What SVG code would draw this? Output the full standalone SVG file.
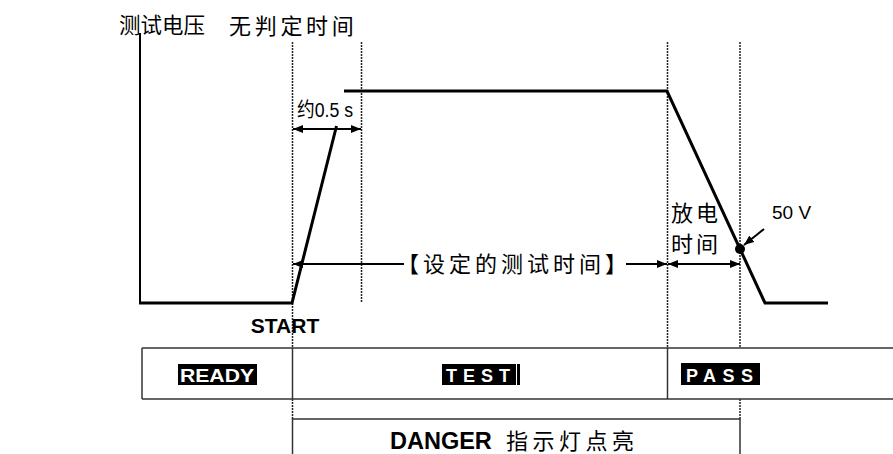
<svg xmlns="http://www.w3.org/2000/svg" width="893" height="454" viewBox="0 0 893 454">
<style>
.cjk{font-family:"Noto Sans CJK SC","Noto Sans",sans-serif;fill:#000}
.lat{font-family:"Liberation Sans",Arial,sans-serif;fill:#000}
.b{font-weight:bold}
.wave{fill:none;stroke:#000;stroke-width:3;stroke-linejoin:miter}
.dash{fill:none;stroke:#222;stroke-width:1.5;stroke-dasharray:2 1}
.dim{fill:none;stroke:#000;stroke-width:2}
.box{fill:none;stroke:#333;stroke-width:1.5}
.tag{fill:#000}
.tagt{font-family:"Liberation Sans",Arial,sans-serif;font-weight:bold;fill:#fff;font-size:18px}
</style>
<defs>
<marker id="arr" viewBox="0 0 10 8" refX="10" refY="4" markerWidth="10" markerHeight="8" markerUnits="userSpaceOnUse" orient="auto-start-reverse">
<path d="M0,0 L10,4 L0,8 z" fill="#000"/>
</marker>
</defs>
<rect width="893" height="454" fill="#fff"/>

<g id="axis">
<line x1="140" y1="33" x2="140" y2="303" stroke="#000" stroke-width="2"/>
<text class="cjk" x="119" y="33" font-size="21.5">测试电压</text>
</g>

<g id="guides">
<line class="dash" x1="292.5" y1="42" x2="292.5" y2="348"/>
<line class="dash" x1="292.5" y1="399" x2="292.5" y2="419"/>
<line class="dash" x1="361.5" y1="42" x2="361.5" y2="303"/>
<line class="dash" x1="667.5" y1="42" x2="667.5" y2="348"/>
<line class="dash" x1="740" y1="42" x2="740" y2="348"/>
<line class="dash" x1="740" y1="399" x2="740" y2="419"/>
</g>

<g id="waveform">
<polyline class="wave" points="139,303 292,303 336.5,126"/>
<polyline class="wave" points="344,91 667,91 765,303 828,303"/>
<circle cx="740" cy="249" r="5" fill="#000"/>
</g>

<g id="labels">
<text class="cjk" x="229" y="34" font-size="22" letter-spacing="3.7">无判定时间</text>
<text class="cjk" x="297" y="117" font-size="20" textLength="56" lengthAdjust="spacingAndGlyphs">约<tspan font-family="Liberation Sans, Arial, sans-serif">0.5 s</tspan></text>
<text class="cjk" x="397" y="272" font-size="22" letter-spacing="4">【设定的测试时间】</text>
<text class="cjk" x="671" y="221" font-size="22" letter-spacing="3">放电</text>
<text class="cjk" x="671" y="252" font-size="22" letter-spacing="3">时间</text>
<text class="lat" x="772" y="219" font-size="19">50 V</text>
<text class="lat b" x="285" y="333" font-size="21" text-anchor="middle">START</text>
</g>

<g id="connectors">
<line class="dim" x1="293" y1="129" x2="361" y2="129" marker-start="url(#arr)" marker-end="url(#arr)"/>
<line class="dim" x1="293" y1="264" x2="404" y2="264" marker-start="url(#arr)"/>
<line class="dim" x1="626" y1="264" x2="667" y2="264" marker-end="url(#arr)"/>
<line class="dim" x1="668" y1="264" x2="740" y2="264" marker-start="url(#arr)" marker-end="url(#arr)"/>
<line class="dim" x1="764" y1="229" x2="744" y2="245" marker-end="url(#arr)"/>
</g>

<g id="state-row">
<line class="box" x1="142" y1="348" x2="893" y2="348"/>
<line class="box" x1="142" y1="399" x2="893" y2="399"/>
<line class="box" x1="142" y1="348" x2="142" y2="399"/>
<line class="box" x1="292.5" y1="348" x2="292.5" y2="399"/>
<line class="box" x1="667.5" y1="348" x2="667.5" y2="399"/>
</g>

<g id="ready">
<rect class="tag" x="178" y="364" width="79" height="21"/>
<text class="tagt" x="180" y="381.5" textLength="74" lengthAdjust="spacingAndGlyphs">READY</text>
</g>

<g id="test">
<rect class="tag" x="442" y="364" width="74" height="21"/>
<rect class="tag" x="517" y="364" width="3" height="21"/>
<text class="tagt" x="446" y="381.5" textLength="64" lengthAdjust="spacing">TEST</text>
</g>

<g id="pass">
<rect class="tag" x="681" y="363" width="79" height="22"/>
<text class="tagt" x="686" y="381.5" textLength="67" lengthAdjust="spacing">PASS</text>
</g>

<g id="danger">
<polyline class="box" points="292.5,454 292.5,419 740,419 740,454"/>
<text class="lat b" x="390" y="449" font-size="23.5">DANGER</text>
<text class="cjk" x="506" y="449" font-size="22" letter-spacing="4.5">指示灯点亮</text>
</g>
</svg>
